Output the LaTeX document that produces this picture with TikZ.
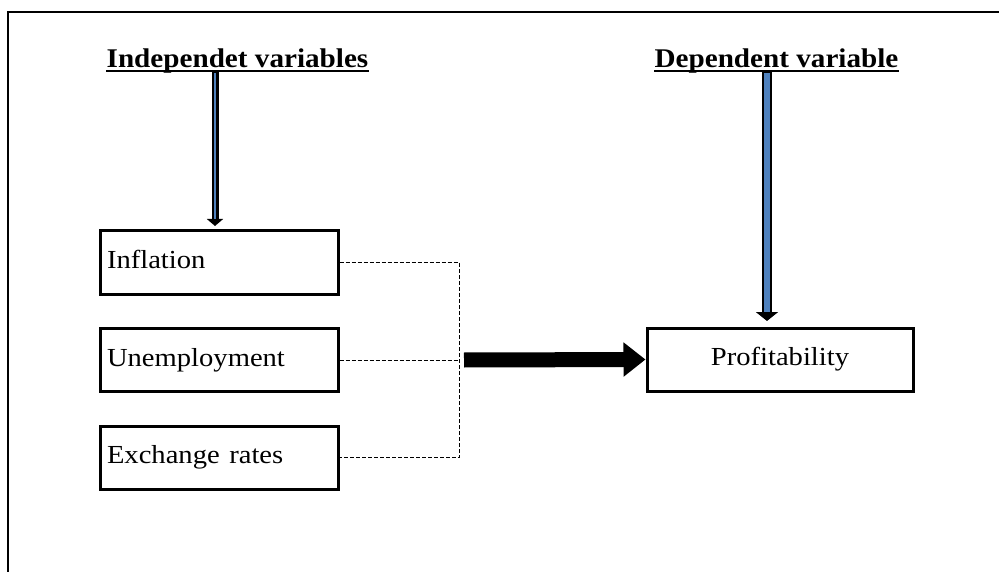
\documentclass[tikz,border=0pt]{standalone}
\usepackage{fontspec}
\setmainfont{Liberation Serif}
\usetikzlibrary{arrows.meta}
\definecolor{arrowblue}{RGB}{79,129,189}
\begin{document}
\begin{tikzpicture}[x=1pt,y=-1pt,
  box/.style={draw, line width=3pt, minimum height=63pt, inner xsep=7pt, inner ysep=0pt,
    text width=224pt, align=left, font=\fontsize{26}{30}\selectfont},
  resultbox/.style={box, text width=252pt, align=center},
  head/.style={font=\fontsize{27}{30}\selectfont\bfseries, inner sep=0pt, anchor=base},
  uline/.style={line width=2.5pt},
  dashline/.style={line width=1pt, dash pattern=on 4pt off 2pt},
  frameline/.style={line width=2.5pt},
  bluearrow/.style={line width=#1, -{Triangle[width=15pt,length=7pt]}},
  bigarrow/.style={line width=15pt, -{Triangle[width=33pt,length=22pt]}}
]
\useasboundingbox (0,0) rectangle (999,572);

% frame
\coordinate (fbl) at (8,572);
\coordinate (ftl) at (8,12);
\coordinate (ftr) at (999,12);
\draw[frameline] (fbl) -- (ftl) -- (ftr);

% headings
\node[head] (h1) at (237.5,68) {\scalebox{1.08}[1]{Independet variables}};
\node[head] (h2) at (776.5,68) {\scalebox{1.08}[1]{Dependent variable}};
\draw[uline] ([yshift=-3pt]h1.base west) -- ([yshift=-3pt]h1.base east);
\draw[uline] ([yshift=-3pt]h2.base west) -- ([yshift=-3pt]h2.base east);

% boxes
\node[box] (inf) at (219,262.5) {\scalebox{1.1}[1]{Inflation\strut}};
\node[box] (une) at (219,360) {\scalebox{1.1}[1]{Unemployment\strut}};
\node[box] (exr) at (219,457.5) {\scalebox{1.1}[1]{Exchange rates\strut}};
\node[resultbox] (pro) at (780,359.5) {\scalebox{1.1}[1]{Profitability\strut}};

% vertical arrows
\coordinate (a1s) at (215,72);
\coordinate (a1e) at (215,226);
\coordinate (a1b) at (215,219);
\draw[line width=7pt, -{Triangle[width=16pt,length=7pt]}] (a1s) -- (a1e);
\draw[line width=2.5pt, arrowblue] ([yshift=-1pt]a1s) -- (a1b);

\coordinate (a2s) at (767,72);
\coordinate (a2e) at (767,321);
\coordinate (a2b) at (767,312);
\draw[line width=10pt, -{Triangle[width=22pt,length=9pt]}] (a2s) -- (a2e);
\draw[line width=6pt, arrowblue] ([yshift=-1.5pt]a2s) -- (a2b);

% dashed joins
\coordinate (jx) at (459,263);
\draw[dashline] (inf.east) -- (inf.east -| jx) |- (exr.east);
\draw[dashline] (une.east) -- (une.east -| jx);

% big arrow
\coordinate (bas) at (464,360);
\draw[bigarrow] (bas) -- (pro.west);
\end{tikzpicture}
\end{document}
